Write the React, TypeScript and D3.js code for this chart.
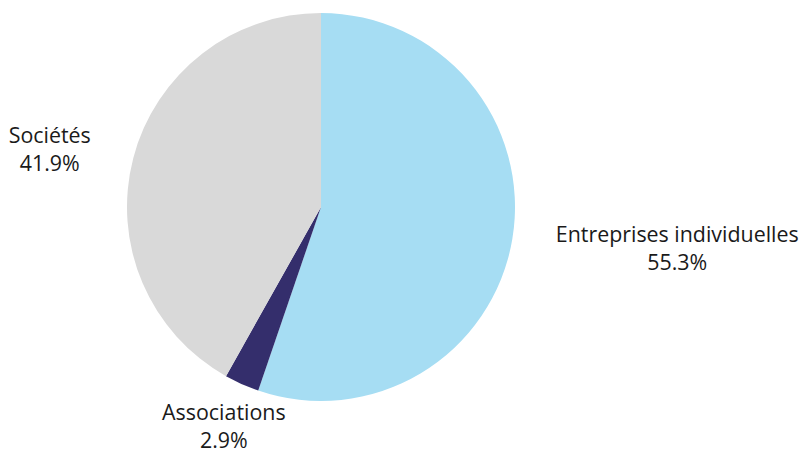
import React from "react";
import * as d3 from "d3";

const categories = ["Entreprises individuelles", "Associations", "Sociétés"];
const values = [55.3, 2.9, 41.9];
const labels = ["55.3%", "2.9%", "41.9%"];
const colors = ["#a6ddf3", "#342e6c", "#d9d9d9"];

const FONT_SIZE = 21.4;
const FONT = `${FONT_SIZE}px 'Open Sans'`;

function measure(t: string): number {
  const cv = document.createElement("canvas");
  const ctx = cv.getContext("2d");
  if (!ctx) return t.length * FONT_SIZE * 0.5;
  ctx.font = FONT;
  return ctx.measureText(t).width;
}

export default function App() {
  const W = 802, H = 453;
  const cx = 321, cy = 207, R = 194, LR = 238;
  const data = categories.map((c, i) => ({ c, v: values[i], l: labels[i], col: colors[i] }));
  const pie = d3.pie<any>().value((d) => d.v).sort(null);
  const arcs = pie(data);
  const arc = d3.arc<any>().innerRadius(0).outerRadius(R);
  return (
    <svg width={W} height={H} style={{ position: "absolute", left: 0, top: 0 }}
      fontFamily="'Open Sans', sans-serif" fontSize={FONT_SIZE}>
      <g transform={`translate(${cx},${cy})`}>
        {arcs.map((a, i) => (
          <path key={i} d={arc(a) as string} fill={a.data.col} />
        ))}
        {arcs.map((a, i) => {
          const m = (a.startAngle + a.endAngle) / 2;
          const s = Math.sin(m), c = -Math.cos(m);
          const ax = s * LR, y = c * LR;
          const w = Math.max(measure(a.data.c), measure(a.data.l));
          const x = Math.abs(s) < 0.5 ? ax : s > 0 ? ax + w / 2 : ax - w / 2;
          return (
            <text key={i} x={x} y={y} textAnchor="middle" fill="#1a1a1a">
              <tspan x={x} dy={-4.3}>{a.data.c}</tspan>
              <tspan x={x} dy={28}>{a.data.l}</tspan>
            </text>
          );
        })}
      </g>
    </svg>
  );
}
